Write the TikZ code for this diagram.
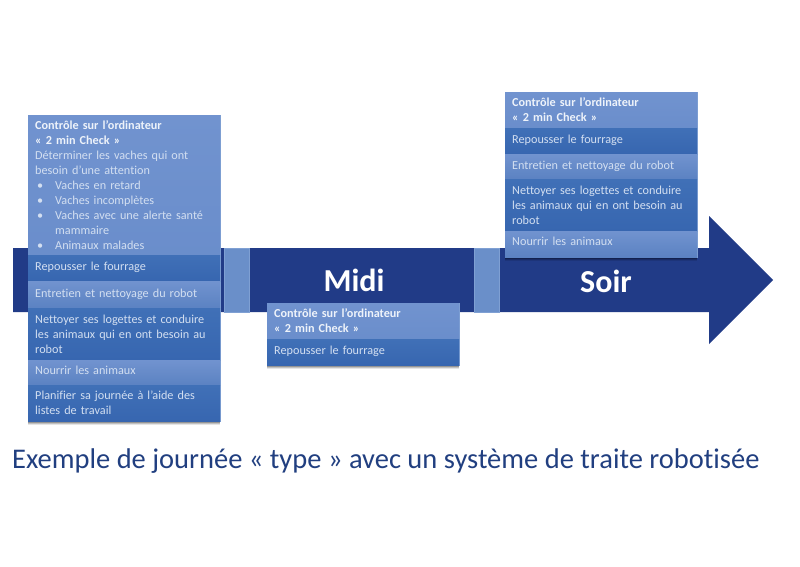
\documentclass[tikz,border=0pt]{standalone}
\usepackage{fontspec}
\setmainfont[Ligatures=NoCommon]{Carlito}
\usetikzlibrary{shadows}
\definecolor{navy}{HTML}{213B87}
\definecolor{seg}{HTML}{6A8FC9}
\definecolor{segline}{HTML}{7FA0D3}
\definecolor{lighttop}{HTML}{7193CF}
\definecolor{lightbot}{HTML}{5B82C2}
\definecolor{darktop}{HTML}{4070B7}
\definecolor{darkbot}{HTML}{3766B0}
\definecolor{rowtext}{HTML}{D3DFF1}
\definecolor{headtext}{HTML}{EEF3FA}
\definecolor{titlecol}{HTML}{213F80}
\tikzset{
  x=1pt,y=-1pt,
  softshadow/.style={
    general shadow={shadow xshift=0pt,shadow yshift=-3.5pt,fill=black,opacity=.10},
    general shadow={shadow xshift=0pt,shadow yshift=-2.5pt,fill=black,opacity=.16},
    general shadow={shadow xshift=0pt,shadow yshift=-1.5pt,fill=black,opacity=.22}},
  boxbase/.style={rectangle,draw=segline,line width=.6pt,fill=darkbot,minimum width=192pt,anchor=north west,inner sep=0pt,softshadow},
  rowbase/.style={rectangle,anchor=north west,minimum width=192pt,text width=178pt,inner xsep=7pt,inner ysep=0pt,align=left,
    font=\fontsize{12.2}{15}\selectfont,text=rowtext},
  lift/.style={execute at end node={\par\vspace{#1pt}}},
  lightrow/.style={rowbase,top color=lighttop,bottom color=lightbot},
  darkrow/.style={rowbase,top color=darktop,bottom color=darkbot},
  headrow/.style={rowbase,top color=lighttop,bottom color=lighttop!88!darkbot},
  segment/.style={rectangle,fill=seg,draw=segline,line width=.6pt,anchor=north west,minimum width=25pt,minimum height=64pt,inner sep=0pt},
  daylabel/.style={font=\fontsize{32}{34}\selectfont\bfseries,text=white},
  caption/.style={font=\fontsize{28.5}{32}\selectfont,text=titlecol,anchor=west,inner sep=0pt},
}
\newcommand{\hd}[1]{\textbf{\textcolor{headtext}{#1}}}
\newcommand{\bul}[1]{\makebox[20pt][l]{\hspace{2pt}•}#1}
\begin{document}
\begin{tikzpicture}
\useasboundingbox (0,0) rectangle (800,566);
\fill[white] (0,0) rectangle (800,566);
% arrow
\fill[navy] (13,248) -- (709,248) -- (709,216) -- (773,280) -- (709,344) -- (709,312) -- (13,312) -- cycle;
\node[segment] (segA) at (224,248) {};
\node[segment] (segB) at (474,248) {};
\node[daylabel] (midi) at (354,280) {Midi};
\node[daylabel] (soir) at (606,281) {Soir};
% left box
\node[boxbase,minimum height=306pt] (boxL) at (28,115) {};
\node[headrow,minimum height=140pt] (L1) at (28,115) {\hd{Contrôle sur l’ordinateur}\\\hd{« 2 min Check »}\\Déterminer les vaches qui ont\\besoin d’une attention\\\bul{Vaches en retard}\\\bul{Vaches incomplètes}\\\bul{Vaches avec une alerte santé}\\\hspace*{20pt}mammaire\\\bul{Animaux malades}};
\node[darkrow,lift=1,minimum height=26pt] (L2) at (28,255) {Repousser le fourrage};
\node[lightrow,lift=1,minimum height=27pt] (L3) at (28,281) {Entretien et nettoyage du robot};
\node[darkrow,minimum height=52pt] (L4) at (28,308) {Nettoyer ses logettes et conduire\\les animaux qui en ont besoin au\\robot};
\node[lightrow,lift=4,minimum height=25pt] (L5) at (28,360) {Nourrir les animaux};
\node[darkrow,minimum height=36pt] (L6) at (28,385) {Planifier sa journée à l’aide des\\listes de travail};
% middle box
\node[boxbase,minimum height=62pt] (boxM) at (267,303) {};
\node[headrow,lift=1,minimum height=36pt] (M1) at (267,303) {\hd{Contrôle sur l’ordinateur}\\\hd{« 2 min Check »}};
\node[darkrow,lift=2,minimum height=26pt] (M2) at (267,339) {Repousser le fourrage};
% right box
\node[boxbase,minimum height=165pt] (boxR) at (505,92) {};
\node[headrow,lift=2,minimum height=36pt] (R1) at (505,92) {\hd{Contrôle sur l’ordinateur}\\\hd{« 2 min Check »}};
\node[darkrow,lift=2,minimum height=26pt] (R2) at (505,128) {Repousser le fourrage};
\node[lightrow,minimum height=25pt] (R3) at (505,154) {Entretien et nettoyage du robot};
\node[darkrow,minimum height=52pt] (R4) at (505,179) {Nettoyer ses logettes et conduire\\les animaux qui en ont besoin au\\robot};
\node[lightrow,lift=6,minimum height=26pt] (R5) at (505,231) {Nourrir les animaux};
% caption
\node[caption] (title) at (12,461) {Exemple de journée « type » avec un système de traite robotisée};
\end{tikzpicture}
\end{document}
